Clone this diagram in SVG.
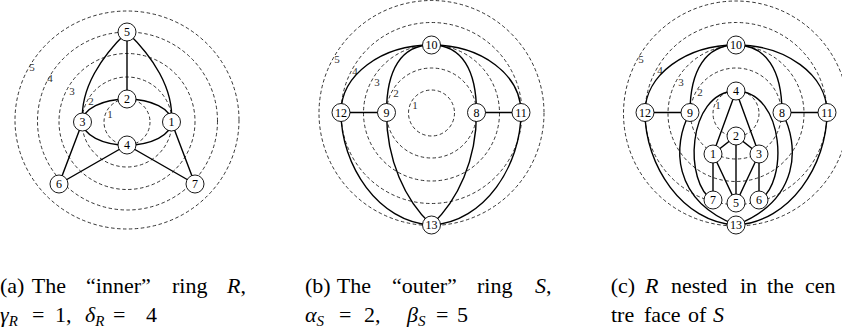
<svg xmlns="http://www.w3.org/2000/svg" width="842" height="330" viewBox="0 0 842 330">
<style>
.ring{fill:none;stroke:#000;stroke-width:0.8;stroke-dasharray:3.5 2.5}
.e{fill:none;stroke:#000;stroke-width:1.4}
.n circle{fill:#fff;stroke:#000;stroke-width:0.9}
.n text{font-size:12px;text-anchor:middle;fill:#000}
.rl{font-size:11px;fill:#333;text-anchor:middle}
.cap{font-size:22px;fill:#000}
.it{font-style:italic}
.sub{font-style:italic;font-size:15px}
</style>
<rect width="842" height="330" fill="#fff"/>
<g font-family="'Liberation Serif', 'DejaVu Serif', serif">
<!-- Panel (a) -->
<g id="rings-a">
<circle class="ring" cx="127" cy="122" r="23"/>
<circle class="ring" cx="127" cy="122" r="45"/>
<circle class="ring" cx="127" cy="121.5" r="68"/>
<ellipse class="ring" cx="127.5" cy="121" rx="90" ry="89"/>
<ellipse class="ring" cx="127" cy="120" rx="112" ry="109"/>
<text class="rl" x="110" y="118">1</text>
<text class="rl" x="91" y="105">2</text>
<text class="rl" x="72" y="95">3</text>
<text class="rl" x="50" y="82">4</text>
<text class="rl" x="32" y="71">5</text>
</g>
<g id="edges-a">
<path class="e" d="M127,32 L127,99"/>
<path class="e" d="M127,32 C102,56 80,88 82.5,122"/>
<path class="e" d="M127,32 C152,56 174,88 171.5,122"/>
<path class="e" d="M82.5,122 A44.5,23 0 0 1 127,99 A44.5,23 0 0 1 171.5,122"/>
<path class="e" d="M82.5,122 A44.5,23 0 0 0 127,145 A44.5,23 0 0 0 171.5,122"/>
<path class="e" d="M82.5,122 L59,184 L127,145 L195,184 L171.5,122"/>
</g>
<g id="a5" class="n"><circle cx="127" cy="32" r="9"/><text x="127" y="36.2">5</text></g>
<g id="a2" class="n"><circle cx="127" cy="99" r="9"/><text x="127" y="103.2">2</text></g>
<g id="a3" class="n"><circle cx="82.5" cy="122" r="9"/><text x="82.5" y="126.2">3</text></g>
<g id="a1" class="n"><circle cx="171.5" cy="122" r="9"/><text x="171.5" y="126.2">1</text></g>
<g id="a4" class="n"><circle cx="127" cy="145" r="9"/><text x="127" y="149.2">4</text></g>
<g id="a6" class="n"><circle cx="59" cy="184" r="9"/><text x="59" y="188.2">6</text></g>
<g id="a7" class="n"><circle cx="195" cy="184" r="9"/><text x="195" y="188.2">7</text></g>

<!-- Panel (b) -->
<g id="rings-b">
<circle class="ring" cx="431.5" cy="113" r="23"/>
<circle class="ring" cx="431.5" cy="113" r="45"/>
<circle class="ring" cx="431.5" cy="113" r="68"/>
<circle class="ring" cx="431.5" cy="113" r="90.5"/>
<circle class="ring" cx="431.5" cy="113" r="112.5"/>
<text class="rl" x="415" y="109">1</text>
<text class="rl" x="396" y="97">2</text>
<text class="rl" x="377" y="86">3</text>
<text class="rl" x="355" y="75">4</text>
<text class="rl" x="337" y="63">5</text>
</g>
<g id="edges-b">
<path class="e" d="M341,112.5 L386.5,112.5 M476.5,112.5 L521,112.5"/>
<path class="e" d="M431.5,45 C381,45 341,75 341,112.5"/>
<path class="e" d="M431.5,45 C482,45 521,75 521,112.5"/>
<path class="e" d="M431.5,45 C401,45 386.5,70 386.5,112.5"/>
<path class="e" d="M431.5,45 C462,45 476.5,70 476.5,112.5"/>
<path class="e" d="M341,112.5 C341,165 378,222 431.5,225"/>
<path class="e" d="M521,112.5 C521,165 485,222 431.5,225"/>
<path class="e" d="M386.5,112.5 C386.5,160 405,200 431.5,225"/>
<path class="e" d="M476.5,112.5 C476.5,160 458,200 431.5,225"/>
</g>
<g id="b10" class="n"><circle cx="431.5" cy="45" r="9"/><text x="431.5" y="49" font-size="11">10</text></g>
<g id="b12" class="n"><circle cx="341" cy="112.5" r="9"/><text x="341" y="116.5" font-size="11">12</text></g>
<g id="b9" class="n"><circle cx="386.5" cy="112.5" r="9"/><text x="386.5" y="116.7">9</text></g>
<g id="b8" class="n"><circle cx="476.5" cy="112.5" r="9"/><text x="476.5" y="116.7">8</text></g>
<g id="b11" class="n"><circle cx="521" cy="112.5" r="9"/><text x="521" y="116.5" font-size="11">11</text></g>
<g id="b13" class="n"><circle cx="431.5" cy="225" r="9"/><text x="431.5" y="229" font-size="11">13</text></g>

<!-- Panel (c) -->
<g id="rings-c">
<circle class="ring" cx="736" cy="113.5" r="23"/>
<circle class="ring" cx="736" cy="113.5" r="45.5"/>
<circle class="ring" cx="736" cy="113.5" r="68"/>
<circle class="ring" cx="736" cy="113.5" r="91"/>
<circle class="ring" cx="736" cy="113.5" r="112.5"/>
<text class="rl" x="718" y="109">1</text>
<text class="rl" x="700" y="96">2</text>
<text class="rl" x="681" y="86">3</text>
<text class="rl" x="660" y="74">4</text>
<text class="rl" x="641" y="63">5</text>
</g>
<g id="edges-c">
<path class="e" d="M645,112.5 L690,112.5 M782,112.5 L827,112.5"/>
<path class="e" d="M736,45 C686,45 645,75 645,112.5"/>
<path class="e" d="M736,45 C786,45 827,75 827,112.5"/>
<path class="e" d="M736,45 C706,45 690,70 690,112.5"/>
<path class="e" d="M736,45 C766,45 782,70 782,112.5"/>
<path class="e" d="M645,112.5 C645,165 682,222 736,225"/>
<path class="e" d="M827,112.5 C827,165 790,222 736,225"/>
<path class="e" d="M690,112.5 C672,145 672,200 736,225"/>
<path class="e" d="M782,112.5 C800,145 800,200 736,225"/>
<path class="e" d="M736,91 C686,92 684,185 713,200"/>
<path class="e" d="M736,91 C786,92 788,185 759,200"/>
<path class="e" d="M736,91 L713,154 M736,91 L759,154"/>
<path class="e" d="M713,154 L736,136 L759,154"/>
<path class="e" d="M736,136 L736,203"/>
<path class="e" d="M713,154 L713,200 M759,154 L759,200"/>
<path class="e" d="M713,154 L736,203 L759,154"/>
</g>
<g id="c10" class="n"><circle cx="736" cy="45" r="9"/><text x="736" y="49" font-size="11">10</text></g>
<g id="c12" class="n"><circle cx="645" cy="112.5" r="9"/><text x="645" y="116.5" font-size="11">12</text></g>
<g id="c9" class="n"><circle cx="690" cy="112.5" r="9"/><text x="690" y="116.7">9</text></g>
<g id="c8" class="n"><circle cx="782" cy="112.5" r="9"/><text x="782" y="116.7">8</text></g>
<g id="c11" class="n"><circle cx="827" cy="112.5" r="9"/><text x="827" y="116.5" font-size="11">11</text></g>
<g id="c13" class="n"><circle cx="736" cy="225" r="9"/><text x="736" y="229" font-size="11">13</text></g>
<g id="c4" class="n"><circle cx="736" cy="91" r="9"/><text x="736" y="95.2">4</text></g>
<g id="c2" class="n"><circle cx="736" cy="136" r="9"/><text x="736" y="140.2">2</text></g>
<g id="c1" class="n"><circle cx="713" cy="154" r="9"/><text x="713" y="158.2">1</text></g>
<g id="c3" class="n"><circle cx="759" cy="154" r="9"/><text x="759" y="158.2">3</text></g>
<g id="c7" class="n"><circle cx="713" cy="200" r="9"/><text x="713" y="204.2">7</text></g>
<g id="c5" class="n"><circle cx="736" cy="203" r="9"/><text x="736" y="207.2">5</text></g>
<g id="c6" class="n"><circle cx="759" cy="200" r="9"/><text x="759" y="204.2">6</text></g>

<!-- Captions -->
<g id="captions" class="cap">
<text y="293"><tspan x="0">(a)</tspan><tspan x="31.7">The</tspan><tspan x="86">“inner”</tspan><tspan x="172">ring</tspan><tspan x="227" class="it">R</tspan><tspan>,</tspan></text>
<text y="322"><tspan x="0" class="it">γ</tspan><tspan class="sub" dy="4">R</tspan><tspan x="32" dy="-4">=</tspan><tspan x="55">1,</tspan><tspan x="85" class="it">δ</tspan><tspan class="sub" dy="4">R</tspan><tspan x="113" dy="-4">=</tspan><tspan x="146">4</tspan></text>
<text y="293"><tspan x="305">(b)</tspan><tspan x="336.7">The</tspan><tspan x="392">“outer”</tspan><tspan x="477">ring</tspan><tspan x="535" class="it">S</tspan><tspan>,</tspan></text>
<text y="322"><tspan x="305" class="it">α</tspan><tspan class="sub" dy="4">S</tspan><tspan x="339" dy="-4">=</tspan><tspan x="364">2,</tspan><tspan x="407" class="it">β</tspan><tspan class="sub" dy="4">S</tspan><tspan x="436" dy="-4">=</tspan><tspan x="457">5</tspan></text>
<text y="293"><tspan x="610.7">(c)</tspan><tspan x="645" class="it">R</tspan><tspan x="671">nested</tspan><tspan x="740">in</tspan><tspan x="767">the</tspan><tspan x="805">cen</tspan></text>
<text y="322"><tspan x="611">tre</tspan><tspan x="644">face</tspan><tspan x="688">of</tspan><tspan x="713" class="it">S</tspan></text>
</g>
</g>
</svg>
